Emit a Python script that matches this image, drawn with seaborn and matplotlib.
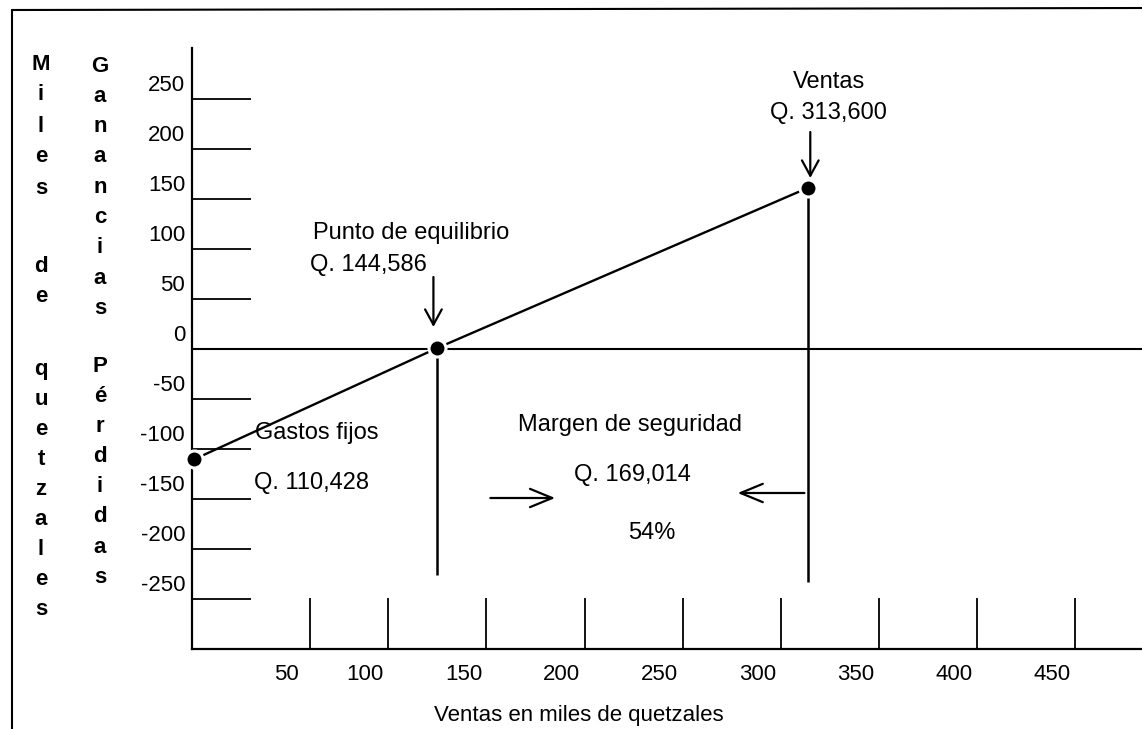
"""Grafica del punto de equilibrio (ventas vs ganancias/perdidas)."""

import matplotlib.pyplot as plt
import matplotlib.transforms as mtransforms
import pandas as pd
import seaborn as sns
from matplotlib.lines import Line2D

# --- Datos (miles de quetzales) ---
puntos = ["Gastos fijos", "Punto de equilibrio", "Ventas"]
ventas_x = [1, 125, 313.6]
resultado_y = [-110.4, 1, 161]
base_lineas = [-226, -233]  # donde terminan las verticales de equilibrio y ventas

gastos_fijos_q = 110428
equilibrio_q = 144586
ventas_q = 313600
margen_q = 169014
margen_pct = 54

x_marcas = [60, 100, 150, 200, 250, 300, 350, 400, 450]
x_etiquetas = ["50", "100", "150", "200", "250", "300", "350", "400", "450"]
y_marcas = [-250, -200, -150, -100, -50, 0, 50, 100, 150, 200, 250]
y_etiquetas = [str(v) for v in y_marcas]

sns.set_theme(style="white")
plt.rcParams["font.family"] = ["Liberation Sans", "DejaVu Sans"]
plt.rcParams["axes.unicode_minus"] = False
plt.rcParams["text.color"] = "black"
plt.rcParams["axes.labelcolor"] = "black"

W, H = 1142, 729
fig = plt.figure(figsize=(W / 100, H / 100), dpi=100)
ax = fig.add_axes([192 / W, 80 / H, 950 / W, 601 / H])

df = pd.DataFrame({"punto": puntos, "ventas": ventas_x, "resultado": resultado_y})

# linea de ganancias y puntos clave
sns.lineplot(data=df, x="ventas", y="resultado", color="black", lw=1.7,
             sort=False, ax=ax)
ax.axhline(0, color="black", lw=1.5, zorder=1)
ax.vlines(ventas_x[1:], base_lineas, resultado_y[1:], color="black", lw=1.8)
sns.scatterplot(data=df, x="ventas", y="resultado", color="black", s=150,
                edgecolor="white", linewidth=2.2, zorder=5, clip_on=False, ax=ax)

ax.set_xlim(0, 484)
ax.set_ylim(-300, 301)
sns.despine(ax=ax)
for lado in ["left", "bottom"]:
    ax.spines[lado].set_color("black")
    ax.spines[lado].set_linewidth(1.6)

ax.set_xticks(x_marcas, x_etiquetas)
ax.set_yticks(y_marcas, y_etiquetas)
ax.tick_params(axis="x", bottom=True, direction="in", length=36.7, width=1.3,
               color="black", pad=11, labelsize=16, labelcolor="black")
ax.tick_params(axis="y", left=True, direction="in", length=42.5, width=1.3,
               color="black", pad=5, labelsize=16, labelcolor="black")

# etiquetas desplazadas como en el dibujo original
dx = mtransforms.ScaledTranslation(-23 / 100, 0, fig.dpi_scale_trans)
for lbl in ax.get_xticklabels():
    lbl.set_transform(lbl.get_transform() + dx)
dy = mtransforms.ScaledTranslation(0, 16 / 100, fig.dpi_scale_trans)
for lbl in ax.get_yticklabels():
    lbl.set_transform(lbl.get_transform() + dy)

ax.set_ylabel("")
ax.set_xlabel("Ventas en miles de quetzales", fontsize=16, color="black")
ax.xaxis.set_label_coords(0.407, -0.093)

# --- Anotaciones ---
fs = 17
ax.text(324.5, 267, "Ventas", fontsize=fs, ha="center", va="center")
ax.text(324.5, 236, f"Q. {ventas_q:,}", fontsize=fs, ha="center", va="center")
ax.text(61.5, 116, "Punto de equilibrio", fontsize=fs, ha="left", va="center")
ax.text(60, 84, f"Q. {equilibrio_q:,}", fontsize=fs, ha="left", va="center")
ax.text(32, -84, "Gastos fijos", fontsize=fs, ha="left", va="center")
ax.text(31.5, -134, f"Q. {gastos_fijos_q:,}", fontsize=fs, ha="left", va="center")
ax.text(223, -76, "Margen de seguridad", fontsize=fs, ha="center", va="center")
ax.text(224.5, -126, f"Q. {margen_q:,}", fontsize=fs, ha="center", va="center")
ax.text(234, -184, f"{margen_pct}%", fontsize=fs, ha="center", va="center")

flecha_v = dict(arrowstyle="->,head_length=0.55,head_width=0.3", color="black",
                lw=1.6, mutation_scale=20, shrinkA=0, shrinkB=0)
flecha_h = dict(arrowstyle="->,head_length=0.8,head_width=0.33", color="black",
                lw=1.6, mutation_scale=20, shrinkA=0, shrinkB=0)
ax.annotate("", xy=(315, 171), xytext=(315, 217), arrowprops=flecha_v)
ax.annotate("", xy=(123, 22), xytext=(123, 72), arrowprops=flecha_v)
ax.annotate("", xy=(185, -149), xytext=(152, -149), arrowprops=flecha_h)
ax.annotate("", xy=(278, -144), xytext=(312, -144), arrowprops=flecha_h)


# titulos verticales, letra por letra
def columna(palabra, x, y0, paso):
    for i, letra in enumerate(palabra):
        fig.text(x / W, 1 - (y0 + i * paso) / H, letra, fontsize=16,
                 fontweight="bold", ha="center", va="center")


columna("Miles", 41, 64, 31)
columna("de", 41, 267, 29)
columna("quetzales", 41, 369, 30.1)
columna("Ganancias", 100, 66, 30.3)
columna("Pérdidas", 100, 366, 30.2)

# marco del dibujo
fig.add_artist(Line2D([12 / W, 12 / W], [0, 1 - 10 / H], color="black", lw=1.5))
fig.add_artist(Line2D([12 / W, 1], [1 - 10 / H, 1 - 8 / H], color="black", lw=1.5))

fig.savefig("out.png", dpi=100)
